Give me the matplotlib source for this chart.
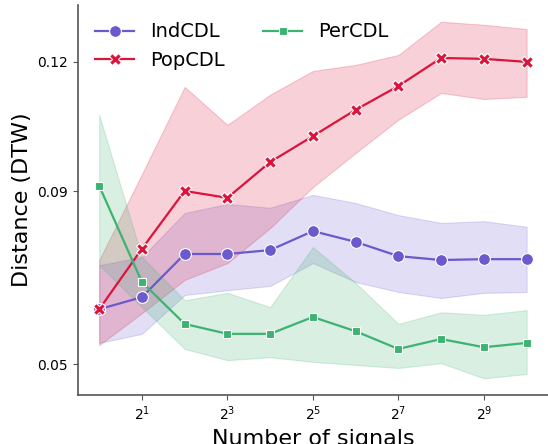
import matplotlib
matplotlib.use("Agg")
import matplotlib.pyplot as plt
from matplotlib.ticker import NullLocator

# number of signals (log2 axis)
n_signals = [1, 2, 4, 8, 16, 32, 64, 128, 256, 512, 1024]

# mean DTW distance and confidence band per method
ind_mean = [0.0627, 0.0655, 0.0755, 0.0755, 0.0764, 0.0808, 0.0783, 0.0750, 0.0741, 0.0743, 0.0743]
ind_low = [0.0549, 0.0570, 0.0660, 0.0671, 0.0681, 0.0734, 0.0690, 0.0667, 0.0653, 0.0665, 0.0667]
ind_high = [0.0729, 0.0748, 0.0850, 0.0871, 0.0862, 0.0892, 0.0873, 0.0845, 0.0827, 0.0831, 0.0818]

pop_mean = [0.0627, 0.0767, 0.0901, 0.0885, 0.0968, 0.1028, 0.1089, 0.1144, 0.1209, 0.1207, 0.1200]
pop_low = [0.0544, 0.0618, 0.0695, 0.0734, 0.0815, 0.0910, 0.0989, 0.1066, 0.1128, 0.1114, 0.1119]
pop_high = [0.0741, 0.0940, 0.1142, 0.1054, 0.1124, 0.1179, 0.1193, 0.1216, 0.1293, 0.1286, 0.1276]

per_mean = [0.0913, 0.0690, 0.0593, 0.0570, 0.0570, 0.0609, 0.0576, 0.0535, 0.0558, 0.0539, 0.0549]
per_low = [0.0729, 0.0632, 0.0535, 0.0509, 0.0516, 0.0505, 0.0498, 0.0491, 0.0502, 0.0467, 0.0477]
per_high = [0.1077, 0.0748, 0.0648, 0.0665, 0.0632, 0.0771, 0.0688, 0.0593, 0.0620, 0.0614, 0.0625]

y_ticks = [0.05, 0.09, 0.12]
x_ticks = [2, 8, 32, 128, 512]

series = [
    ("IndCDL", ind_mean, ind_low, ind_high, "#6A5ACD", "o", 8.5),
    ("PopCDL", pop_mean, pop_low, pop_high, "#DC143C", "X", 9),
    ("PerCDL", per_mean, per_low, per_high, "#3CB371", "s", 6),
]

fig = plt.figure(figsize=(5.48, 4.44), dpi=100)
ax = fig.add_axes([0.142, 0.11, 0.858, 0.879])

for name, m, lo, hi, c, mk, ms in series:
    ax.fill_between(n_signals, lo, hi, color=c, alpha=0.2, lw=0.8)
    ax.plot(n_signals, m, color=c, lw=1.6, marker=mk, markersize=ms,
            markeredgecolor="white", markeredgewidth=0.8, label=name)

ax.set_xscale("log", base=2)
ax.set_xticks(x_ticks)
ax.xaxis.set_minor_locator(NullLocator())
ax.set_yticks(y_ticks)
ax.set_yticklabels([str(t) for t in y_ticks])
ax.set_ylim(0.0428, 0.1332)
ax.tick_params(labelsize=10, color="#555555")

for s in ["top", "right"]:
    ax.spines[s].set_visible(False)
for s in ["left", "bottom"]:
    ax.spines[s].set_color("#555555")
    ax.spines[s].set_linewidth(1.2)

ax.set_xlabel("Number of signals", fontsize=16)
ax.set_ylabel("Distance (DTW)", fontsize=16)
ax.legend(loc="upper left", ncol=2, frameon=False, fontsize=14)

fig.savefig("out.png", dpi=100)
